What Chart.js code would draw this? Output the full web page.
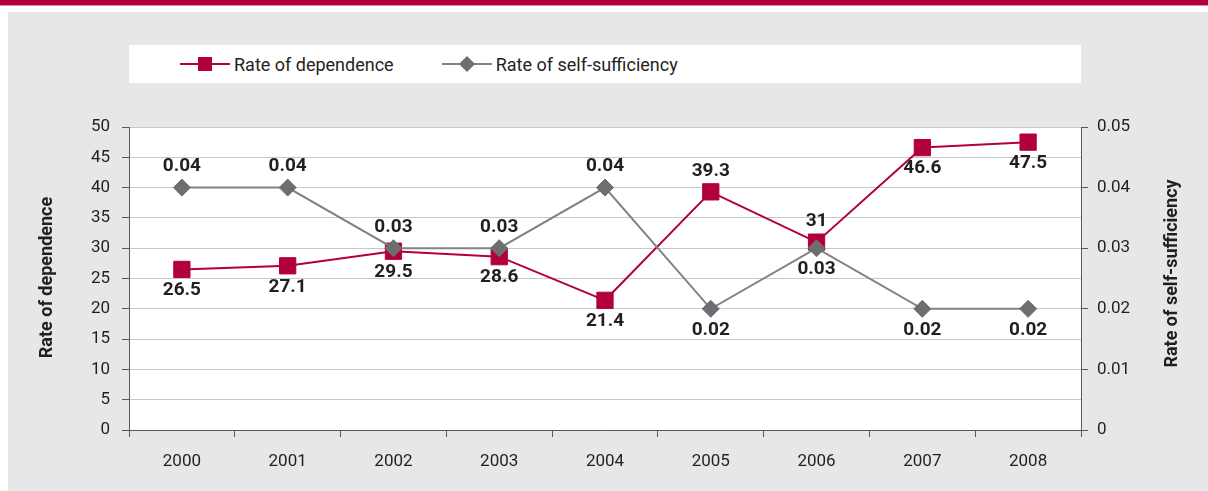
<!DOCTYPE html>
<html>
<head>
<meta charset="utf-8">
<script src="https://cdn.jsdelivr.net/npm/chart.js@4.4.1/dist/chart.umd.min.js"></script>
<style>
  html, body { margin: 0; padding: 0; background: #fff; }
  #wrap { position: relative; width: 1208px; height: 491px; overflow: hidden; }
  #topbar { position: absolute; left: 0; top: 0; width: 1208px; height: 5px; background: #b2003a; border-bottom: 1px solid #e58aa3; }
  #panel { position: absolute; left: 8px; top: 12px; right: 0; bottom: 0; background: #e6e7e8; }
  #grafica { position: absolute; left: 0; top: 0; }
  #legend {
    position: absolute; left: 129px; top: 45px; width: 952px; height: 38px;
    background: #fff; display: flex; align-items: center; padding-left: 51px; box-sizing: border-box;
    font-family: Roboto, sans-serif; font-size: 18px; color: #231f20;
  }
  .item { display: flex; align-items: center; margin-right: 48px; }
  .item svg { margin-right: 4px; }
</style>
</head>
<body>
<div id="wrap">
  <div id="topbar"></div>
  <div id="panel"></div>
  <canvas id="grafica" width="1208" height="491"></canvas>
  <div id="legend"></div>
</div>
<script>
const FONT = "Roboto, sans-serif";
const TEXT = "#231f20";
const AXIS = "#58595b";
const RED = "#b2003a";
const GREY_LINE = "#808285";
const GREY_MARK = "#6d6e71";

// Datos
const years = ["2000", "2001", "2002", "2003", "2004", "2005", "2006", "2007", "2008"];
const dependence = [26.5, 27.1, 29.5, 28.6, 21.4, 39.3, 31, 46.6, 47.5];
const selfSufficiency = [0.04, 0.04, 0.03, 0.03, 0.04, 0.02, 0.03, 0.02, 0.02];

// posición de las etiquetas (arriba / abajo del punto)
const depSide = ["below", "below", "below", "below", "below", "above", "above", "below", "below"];
const selfSide = ["above", "above", "above", "above", "above", "below", "below", "below", "below"];

const leftTitle = "Rate of dependence";
const rightTitle = "Rate of self-sufficiency";

// Leyenda HTML
const legendItems = [
  { label: leftTitle, color: RED, line: RED, shape: "rect" },
  { label: rightTitle, color: GREY_MARK, line: GREY_LINE, shape: "diamond" },
];
const legendDiv = document.getElementById("legend");
legendItems.forEach((it) => {
  const div = document.createElement("div");
  div.className = "item";
  const mark = it.shape === "rect"
    ? `<rect x="18" y="1" width="14" height="14" fill="${it.color}"/>`
    : `<polygon points="25,0 33,8 25,16 17,8" fill="${it.color}"/>`;
  div.innerHTML = `<svg width="50" height="16"><line x1="0" y1="8" x2="50" y2="8" stroke="${it.line}" stroke-width="2"/>${mark}</svg><span>${it.label}</span>`;
  legendDiv.appendChild(div);
});

// fondo blanco del área del gráfico
const plotBackground = {
  id: "plotBackground",
  beforeDraw(chart) {
    const { ctx, chartArea: a } = chart;
    ctx.save();
    ctx.fillStyle = "#fff";
    ctx.fillRect(a.left, a.top, a.right - a.left, a.bottom - a.top);
    ctx.restore();
  },
};

// etiquetas de valores y títulos de ejes
const valueLabels = {
  id: "valueLabels",
  afterDatasetsDraw(chart) {
    const ctx = chart.ctx;
    ctx.save();
    ctx.font = "bold 19px " + FONT;
    ctx.fillStyle = TEXT;
    ctx.textAlign = "center";
    ctx.textBaseline = "middle";
    chart.data.datasets.forEach((ds, i) => {
      const meta = chart.getDatasetMeta(i);
      meta.data.forEach((pt, j) => {
        const dir = ds.labelSide[j] === "above" ? -1 : 1;
        ctx.fillText(ds.labelFormat(ds.data[j]), pt.x, pt.y + dir * 21);
      });
    });
    ctx.restore();
  },
  afterDraw(chart) {
    const { ctx, chartArea: a } = chart;
    const cy = (a.top + a.bottom) / 2;
    ctx.save();
    ctx.font = "bold 18px " + FONT;
    ctx.fillStyle = TEXT;
    ctx.textAlign = "center";
    ctx.textBaseline = "middle";
    [[47, cy - 1, leftTitle], [1172, cy - 5, rightTitle]].forEach(([x, y, t]) => {
      ctx.save();
      ctx.translate(x, y);
      ctx.rotate(-Math.PI / 2);
      ctx.fillText(t, 0, 0);
      ctx.restore();
    });
    ctx.restore();
  },
};

const tickFont = { family: FONT, size: 17 };

new Chart(document.getElementById("grafica"), {
  type: "line",
  data: {
    labels: years,
    datasets: [
      {
        label: rightTitle,
        data: selfSufficiency,
        yAxisID: "y1",
        borderColor: GREY_LINE,
        borderWidth: 2,
        pointStyle: "rectRot",
        pointRadius: 8.5,
        pointBackgroundColor: GREY_MARK,
        pointBorderColor: GREY_MARK,
        pointBorderWidth: 1,
        labelSide: selfSide,
        labelFormat: (v) => v.toFixed(2),
      },
      {
        label: leftTitle,
        data: dependence,
        yAxisID: "y",
        borderColor: RED,
        borderWidth: 2,
        pointStyle: "rect",
        pointRadius: 11.5,
        pointBackgroundColor: RED,
        pointBorderColor: RED,
        pointBorderWidth: 1,
        labelSide: depSide,
        labelFormat: (v) => String(v),
      },
    ],
  },
  options: {
    responsive: false,
    animation: false,
    layout: { padding: { top: 127, left: 0, right: 0, bottom: 0 } },
    plugins: { legend: { display: false }, tooltip: { enabled: false } },
    scales: {
      x: {
        offset: true,
        grid: { offset: true, drawOnChartArea: false, tickLength: 7, tickColor: AXIS },
        border: { color: AXIS },
        ticks: { color: TEXT, font: tickFont, padding: 15 },
        afterFit(s) { s.height = 61; },
      },
      y: {
        position: "left",
        min: 0,
        max: 50,
        ticks: { stepSize: 5, padding: 12, color: TEXT, font: tickFont },
        grid: { color: "#c7c8ca", tickColor: AXIS, tickLength: 7 },
        border: { color: AXIS },
        afterFit(s) { s.width = 129; },
      },
      y1: {
        position: "right",
        min: 0,
        max: 0.05,
        ticks: {
          stepSize: 0.01, padding: 9, color: TEXT, font: tickFont,
          callback: (v) => (v === 0 ? "0" : v.toFixed(2)),
        },
        grid: { drawOnChartArea: false, tickColor: AXIS, tickLength: 7 },
        border: { color: AXIS },
        afterFit(s) { s.width = 127; },
      },
    },
  },
  plugins: [plotBackground, valueLabels],
});
</script>
</body>
</html>
